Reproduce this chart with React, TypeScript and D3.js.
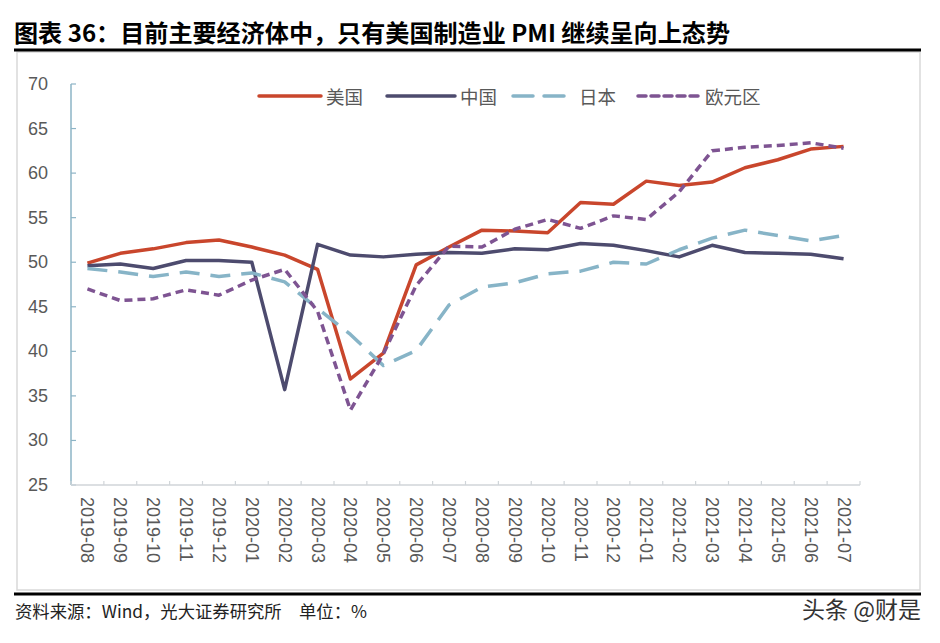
import React from 'react';
import * as d3 from 'd3';

const months = ['2019-08','2019-09','2019-10','2019-11','2019-12','2020-01','2020-02','2020-03','2020-04','2020-05','2020-06','2020-07','2020-08','2020-09','2020-10','2020-11','2020-12','2021-01','2021-02','2021-03','2021-04','2021-05','2021-06','2021-07'];
const usValues = [49.9, 51.0, 51.5, 52.2, 52.5, 51.7, 50.8, 49.2, 36.9, 39.8, 49.7, 51.7, 53.6, 53.5, 53.3, 56.7, 56.5, 59.1, 58.6, 59.0, 60.6, 61.5, 62.7, 63.0];
const chinaValues = [49.6, 49.8, 49.3, 50.2, 50.2, 50.0, 35.7, 52.0, 50.8, 50.6, 50.9, 51.1, 51.0, 51.5, 51.4, 52.1, 51.9, 51.3, 50.6, 51.9, 51.1, 51.0, 50.9, 50.4];
const japanValues = [49.3, 48.9, 48.4, 48.9, 48.4, 48.8, 47.8, 44.8, 41.9, 38.4, 40.1, 45.2, 47.2, 47.7, 48.7, 49.0, 50.0, 49.8, 51.4, 52.7, 53.6, 53.0, 52.4, 53.0];
const euroValues = [47.0, 45.7, 45.9, 46.9, 46.3, 48.0, 49.2, 44.5, 33.4, 39.7, 47.4, 51.8, 51.7, 53.7, 54.8, 53.8, 55.2, 54.8, 57.9, 62.5, 62.9, 63.1, 63.4, 62.8];
const yTicks = [25, 30, 35, 40, 45, 50, 55, 60, 65, 70];
const seriesNames = ['美国', '中国', '日本', '欧元区'];

const title = '图表 36：目前主要经济体中，只有美国制造业 PMI 继续呈向上态势';
const source = '资料来源：Wind，光大证券研究所　单位：%';
const watermark = '头条 @财是';

export default function App() {
  const W = 940, H = 643;
  const left = 71, right = 860, top = 84, bottom = 485;
  const x = d3.scaleBand<string>().domain(months).range([left, right]).paddingInner(0).paddingOuter(0);
  const y = d3.scaleLinear().domain([25, 70]).range([bottom, top]);
  const cx = (m: string) => (x(m) as number) + x.bandwidth() / 2;

  const series = [
    { name: seriesNames[0], values: usValues, color: '#C9462C', dash: undefined as string | undefined },
    { name: seriesNames[1], values: chinaValues, color: '#4D4B6E', dash: undefined },
    { name: seriesNames[2], values: japanValues, color: '#87B4C7', dash: '20 11' },
    { name: seriesNames[3], values: euroValues, color: '#7E5492', dash: '8 5' },
  ];

  const line = d3.line<number>().x((_, i) => cx(months[i])).y(d => y(d));

  const legendItems = [
    { x1: 259, x2: 321, tx: 326 },
    { x1: 387, x2: 455, tx: 460 },
    { x1: 513, x2: 574, tx: 579 },
    { x1: 638, x2: 700, tx: 705 },
  ];

  const boundaries = months.map(m => x(m) as number).concat([right]);

  return (
    <svg width={W} height={H} style={{ position: 'absolute', left: 0, top: 0, background: '#fff' }}
      fontFamily="'Liberation Sans', Arial, sans-serif">
      <rect x={0} y={0} width={W} height={H} fill="#fff" />
      <text x={14} y={42} fontFamily="'Noto Sans CJK SC', sans-serif" fontWeight="bold" fontSize={24}
        fill="#000" textLength={716} lengthAdjust="spacingAndGlyphs">{title}</text>
      <rect x={17} y={52} width={903} height={538} fill="none" stroke="#D9D9D9" strokeWidth={1.5} />
      <line x1={14} x2={921} y1={50} y2={50} stroke="#000" strokeWidth={3} />
      <line x1={14} x2={921} y1={594} y2={594} stroke="#000" strokeWidth={3} />

      {/* y axis */}
      <line x1={left} x2={left} y1={top} y2={bottom} stroke="#8DB4C6" strokeWidth={1.5} />
      {yTicks.map(t => (
        <g key={t}>
          <line x1={left} x2={left + 5} y1={y(t)} y2={y(t)} stroke="#8DB4C6" strokeWidth={1.2} />
          <text x={48} y={y(t)} textAnchor="end" dominantBaseline="central" fontSize={18} fill="#595959">{t}</text>
        </g>
      ))}

      {/* x axis */}
      <line x1={left} x2={right} y1={bottom} y2={bottom} stroke="#D0D5D9" strokeWidth={1.5} />
      {boundaries.map((b, i) => (
        <line key={i} x1={b} x2={b} y1={bottom} y2={bottom - 4} stroke="#D0D5D9" strokeWidth={1.2} />
      ))}
      {months.map(m => (
        <text key={m} transform={`translate(${cx(m)},${497}) rotate(90)`} textAnchor="start"
          dominantBaseline="central" fontSize={18} fill="#595959">{m}</text>
      ))}

      {/* lines */}
      {series.map(s => (
        <path key={s.name} d={line(s.values) || ''} fill="none" stroke={s.color} strokeWidth={3.5}
          strokeDasharray={s.dash} strokeLinejoin="round" />
      ))}

      {/* legend */}
      {series.map((s, i) => (
        <g key={s.name}>
          <line x1={legendItems[i].x1} x2={legendItems[i].x2} y1={96} y2={96} stroke={s.color}
            strokeWidth={3.5} strokeDasharray={s.dash} strokeLinecap="round" />
          <text x={legendItems[i].tx} y={96} dominantBaseline="central" fontSize={18.5} fill="#595959"
            fontFamily="'Noto Sans CJK SC', sans-serif">{s.name}</text>
        </g>
      ))}

      <text x={15} y={618} fontFamily="'Noto Sans CJK SC', sans-serif" fontSize={17} fill="#222"
        textLength={352} lengthAdjust="spacingAndGlyphs">{source}</text>
      <text x={921} y={618} textAnchor="end" fontFamily="'Noto Sans CJK SC', sans-serif" fontSize={23} fill="#333">{watermark}</text>
    </svg>
  );
}
